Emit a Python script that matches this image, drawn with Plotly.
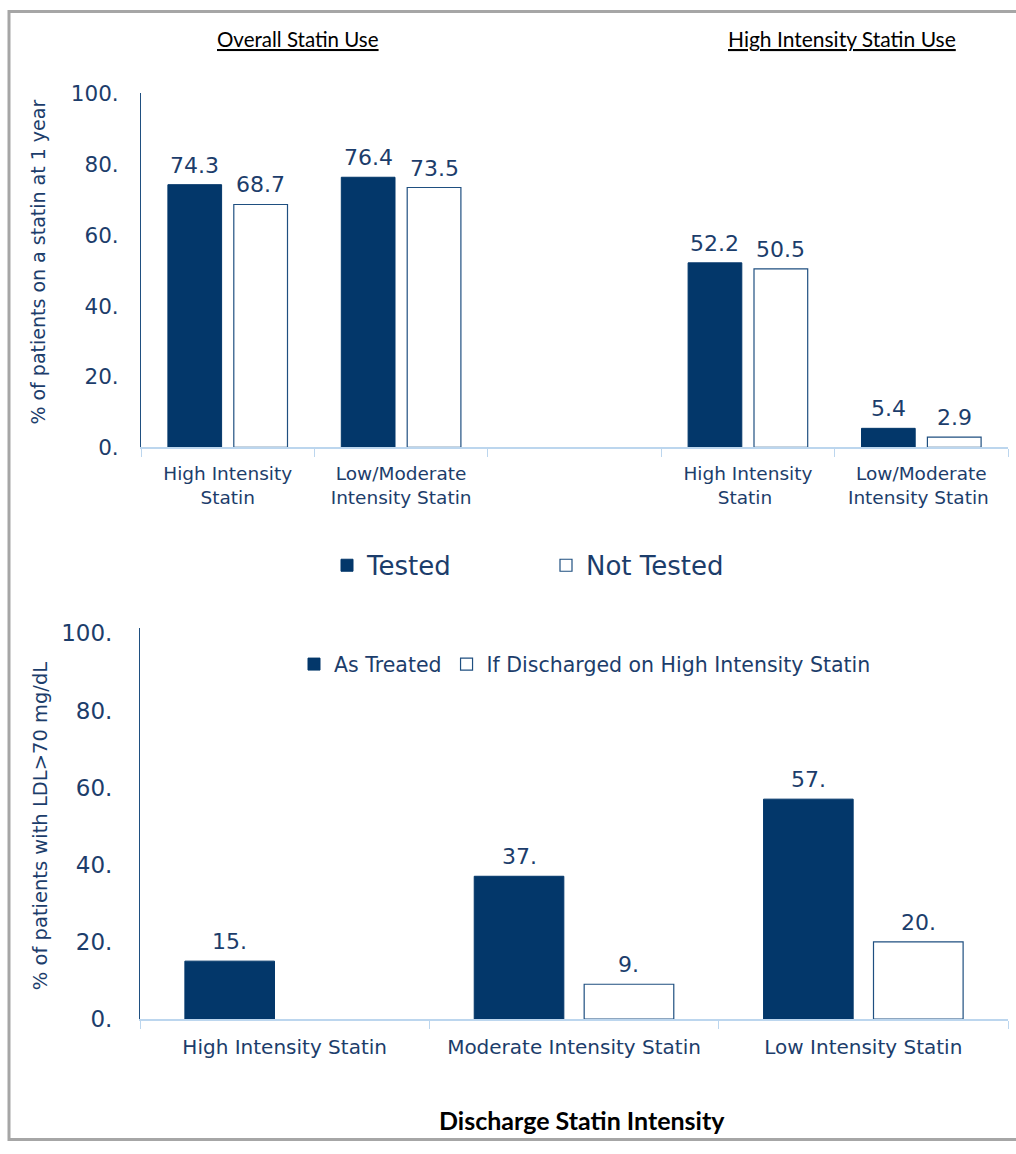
import plotly.graph_objects as go

# ---------------- data ----------------
top_categories = ["High Intensity<br>Statin", "Low/Moderate<br>Intensity Statin", " ",
                  "High Intensity<br>Statin ", "Low/Moderate<br>Intensity Statin "]
tested = [74.3, 76.4, None, 52.2, 5.4]
not_tested = [68.7, 73.5, None, 50.5, 2.9]

bottom_categories = ["High Intensity Statin", "Moderate Intensity Statin", "Low Intensity Statin"]
as_treated = [15, 37, 57]
if_high = [None, 9, 20]

y_ticks = [0, 20, 40, 60, 80, 100]
y_ticktext = ["0.", "20.", "40.", "60.", "80.", "100."]

# ---------------- styles ----------------
W, H = 1016, 1154
DARK = "#03376a"
TXT = "#1c3d6b"
AXLIGHT = "#bcd6ee"
FONT = "DejaVu Sans, Verdana, sans-serif"
TITLEFONT = "Lato, Carlito, sans-serif"
VS, VOFF = 0.98, 10.2   # vertical correction of the photographed page
BARGAP, GROUPGAP = 0.24, 0.185


def px_x(x):
    return x / W


def px_y(y):
    return 1 - ((y - VOFF) / VS) / H


def fmt1(v):
    return f"{v:.1f}"


def fmt0(v):
    return f"{v:.0f}."


fig = go.Figure()

fig.add_trace(go.Bar(
    x=top_categories, y=tested, name="Tested",
    marker=dict(color=DARK, line=dict(color=DARK, width=1)),
    xaxis="x", yaxis="y", legend="legend",
))
fig.add_trace(go.Bar(
    x=top_categories, y=not_tested, name="Not Tested",
    marker=dict(color="white", line=dict(color="#1f4f80", width=1.2)),
    xaxis="x", yaxis="y", legend="legend",
))

fig.add_trace(go.Bar(
    x=bottom_categories, y=as_treated, name="As Treated",
    marker=dict(color=DARK, line=dict(color=DARK, width=1)),
    xaxis="x2", yaxis="y2", legend="legend2",
))
fig.add_trace(go.Bar(
    x=bottom_categories, y=if_high, name="If Discharged on High Intensity Statin",
    marker=dict(color="white", line=dict(color="#1f4f80", width=1.2)),
    xaxis="x2", yaxis="y2", legend="legend2",
))

# value labels placed above each bar (grouped offset from the bar layout)
half = (1 - BARGAP) / 4
for series, sign, fmt, xr, yr in [
    (tested, -1, fmt1, "x", "y"), (not_tested, 1, fmt1, "x", "y"),
    (as_treated, -1, fmt0, "x2", "y2"), (if_high, 1, fmt0, "x2", "y2"),
]:
    for i, v in enumerate(series):
        if v is None:
            continue
        fig.add_annotation(
            x=i + sign * half, y=v, xref=xr, yref=yr, text=fmt(v),
            showarrow=False, xanchor="center", yanchor="bottom", yshift=5,
            font=dict(size=22, color=TXT, family=FONT),
        )

fig.update_layout(
    width=W, height=H,
    margin=dict(l=0, r=0, t=0, b=0),
    paper_bgcolor="white", plot_bgcolor="white",
    barmode="group", bargap=BARGAP, bargroupgap=GROUPGAP,
    font=dict(family=FONT, color=TXT),
    xaxis=dict(
        domain=[px_x(141), px_x(1008)], anchor="y",
        type="category", categoryorder="array", categoryarray=top_categories,
        showline=True, linecolor=AXLIGHT, linewidth=1.5,
        ticks="outside", tickson="boundaries", ticklen=8, tickcolor=AXLIGHT,
        ticklabelstandoff=9,
        tickfont=dict(size=18.5, color=TXT, family=FONT),
        showgrid=False, zeroline=False,
    ),
    yaxis=dict(
        domain=[px_y(447), px_y(92)], anchor="x",
        range=[0, 100.3], tickvals=y_ticks, ticktext=y_ticktext,
        showline=True, linecolor="#1f4f80", linewidth=1,
        ticks="outside", ticklen=17, tickcolor="rgba(0,0,0,0)",
        tickfont=dict(size=21.5, color=TXT, family=FONT),
        showgrid=False, zeroline=False,
    ),
    xaxis2=dict(
        domain=[px_x(140), px_x(1008)], anchor="y2",
        type="category", categoryorder="array", categoryarray=bottom_categories,
        showline=True, linecolor=AXLIGHT, linewidth=1.5,
        ticks="outside", tickson="boundaries", ticklen=8, tickcolor=AXLIGHT,
        ticklabelstandoff=9,
        tickfont=dict(size=20, color=TXT, family=FONT),
        showgrid=False, zeroline=False,
    ),
    yaxis2=dict(
        domain=[px_y(1019), px_y(628)], anchor="x2",
        range=[0, 101.3], tickvals=y_ticks, ticktext=y_ticktext,
        showline=True, linecolor="#1f4f80", linewidth=1,
        ticks="outside", ticklen=22, tickcolor="rgba(0,0,0,0)",
        tickfont=dict(size=23, color=TXT, family=FONT),
        showgrid=False, zeroline=False,
    ),
    legend=dict(
        orientation="h", x=px_x(327), y=px_y(565), xanchor="left", yanchor="middle",
        font=dict(size=26, color=TXT, family=FONT), entrywidth=174,
        bgcolor="rgba(0,0,0,0)",
    ),
    legend2=dict(
        orientation="h", x=px_x(294), y=px_y(664), xanchor="left", yanchor="middle",
        font=dict(size=20.5, color=TXT, family=FONT),
        bgcolor="rgba(0,0,0,0)",
    ),
    showlegend=True,
)

annotations = [
    dict(text="<u>Overall Statin Use</u>", x=px_x(298), y=px_y(38),
         font=dict(size=20.5, color="black", family=TITLEFONT)),
    dict(text="<u>High Intensity Statin Use</u>", x=px_x(842), y=px_y(38),
         font=dict(size=21, color="black", family=TITLEFONT)),
    dict(text="% of patients on a statin at 1 year", x=px_x(38), y=px_y(262), textangle=-90,
         font=dict(size=19, color=TXT, family=FONT)),
    dict(text="% of patients with LDL>70 mg/dL", x=px_x(40), y=px_y(826), textangle=-90,
         font=dict(size=19.5, color=TXT, family=FONT)),
    dict(text="<b>Discharge Statin Intensity</b>", x=px_x(582), y=px_y(1120),
         font=dict(size=25, color="black", family=TITLEFONT)),
]
for a in annotations:
    fig.add_annotation(xref="paper", yref="paper", showarrow=False,
                       xanchor="center", yanchor="middle", **a)

fig.add_shape(type="rect", xref="paper", yref="paper",
              x0=px_x(9), x1=px_x(1030), y0=1.6 / H, y1=1 - 0.6 / H,
              line=dict(color="#a6a6a6", width=3), fillcolor="rgba(0,0,0,0)", layer="below")

fig.write_html(
    "out.html",
    config={"displayModeBar": False},
    post_script=(
        "document.body.style.margin='0';document.body.style.overflow='hidden';"
        "var d=document.getElementById('{plot_id}');"
        "d.style.position='fixed';d.style.top='0px';d.style.left='0px';"
    ),
)
